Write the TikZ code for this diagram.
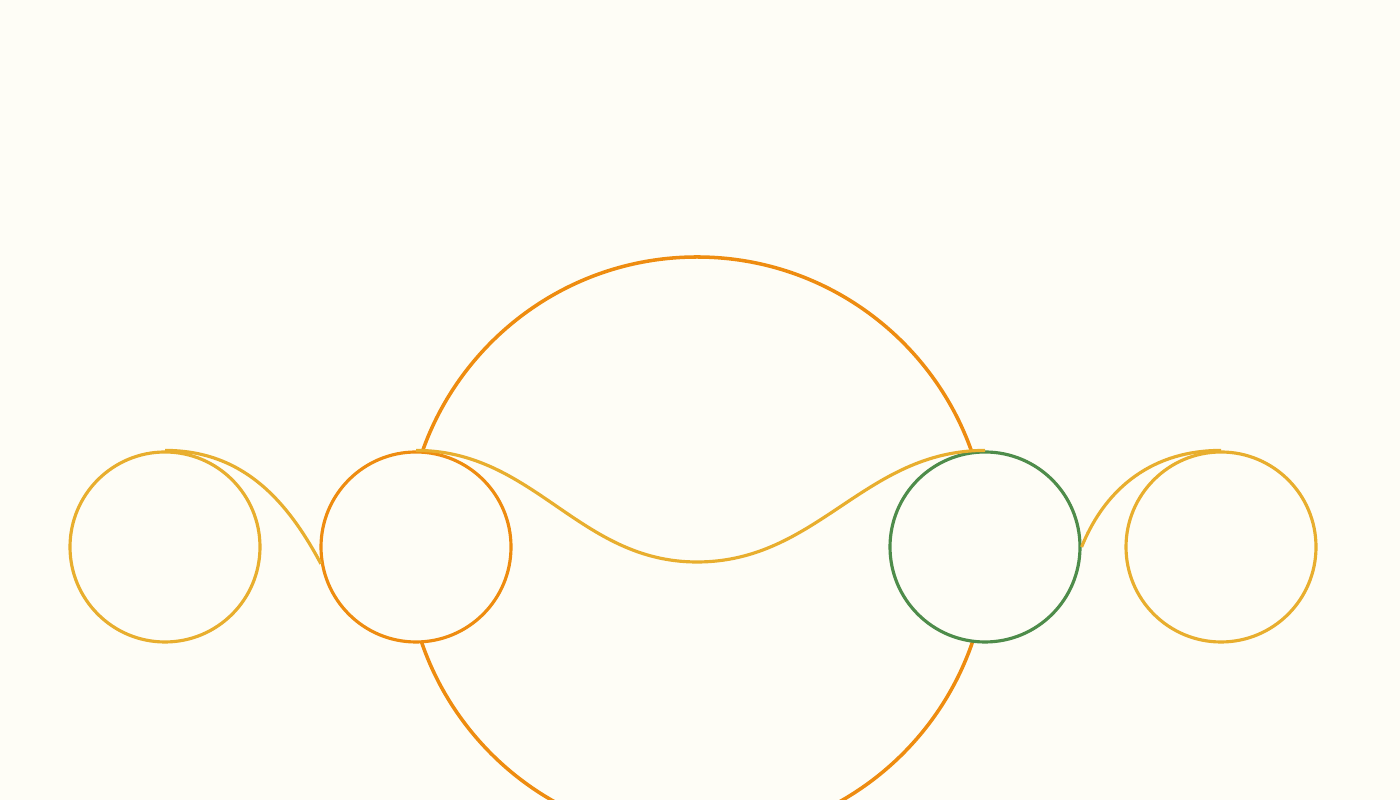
\documentclass[tikz,border=0pt]{standalone}
\usepackage{tikz}
\usetikzlibrary{positioning}
\definecolor{paper}{HTML}{FEFDF6}
\definecolor{ringorange}{HTML}{EE8C10}
\definecolor{ringyellow}{HTML}{E8AE2E}
\definecolor{ringgreen}{HTML}{4E8C4A}
\tikzstyle{ring} = [circle, minimum size=1.9cm, inner sep=0pt, fill=paper, line width=0.9pt]
\tikzstyle{bigring} = [circle, minimum size=5.82cm, inner sep=0pt, draw=ringorange, line width=1pt]
\tikzstyle{strand} = [draw=ringyellow, line width=0.9pt]

\begin{document}
\begin{tikzpicture}
   \clip (0,0) rectangle (14,8);
   \fill [paper] (0,0) rectangle (14,8);
   \node (big) [bigring] at (6.97,2.52) {};
   \coordinate (dip) at (6.97,2.38);
   \node (c1) [ring, draw=ringyellow] at (1.65,2.53) {};
   \node (c2) [ring, draw=ringorange] at (4.16,2.53) {};
   \node (c3) [ring, draw=ringgreen] at (9.85,2.53) {};
   \node (c4) [ring, draw=ringyellow] at (12.21,2.53) {};
   \draw [strand] (c1.north) to[out=0,in=118] (c2.190);
   \draw [strand] (c2.north) to[out=0,in=180] (dip) to[out=0,in=180] (c3.north);
   \draw [strand] (c3.east) to[out=68,in=180] (c4.north);
\end{tikzpicture}
\end{document}
